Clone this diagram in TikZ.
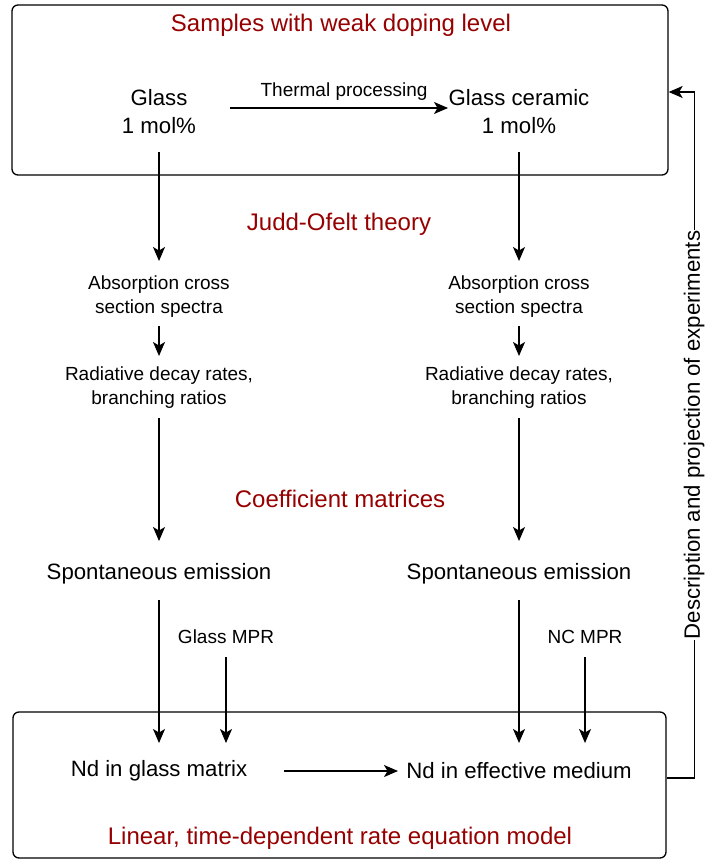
\documentclass[tikz,border=0pt]{standalone}
\usepackage{fontspec}
\setmainfont{Liberation Sans}
\usetikzlibrary{arrows.meta}
\definecolor{hd}{RGB}{150,0,0}
\begin{document}
\begin{tikzpicture}[x=1pt,y=-1pt,
  big/.style={font=\fontsize{22.2}{28}\selectfont, align=center, inner sep=0pt},
  small/.style={font=\fontsize{19}{24}\selectfont, align=center, inner sep=0pt},
  head/.style={font=\fontsize{24}{28}\selectfont, text=hd, inner sep=0pt},
  arr/.style={-{Stealth[length=14pt,width=12pt,inset=3.5pt]}, line width=1.3pt},
  box/.style={draw, line width=1.3pt, rounded corners=6pt, inner sep=0pt},
]
\useasboundingbox (0,0) rectangle (704,861);
% boxes
\node[box, minimum width=656pt, minimum height=170pt] (top) at (340,90) {};
\node[box, minimum width=653pt, minimum height=146pt] (bot) at (339.5,785) {};
% headings
\node[head] (h1) at (341,25) {Samples with weak doping level};
\node[head] (h2) at (339,224) {Judd-Ofelt theory};
\node[head] (h3) at (340,499) {Coefficient matrices};
\node[head] (h4) at (340,838) {Linear, time-dependent rate equation model};
% top row
\node[big] (g1) at (159,112) {Glass\\1 mol\%};
\node[big] (g2) at (519,112) {Glass ceramic\\1 mol\%};
\node[small] (tp) at (344,92) {Thermal processing};
% absorption
\node[small] (a1) at (159,297) {Absorption cross\\section spectra};
\node[small] (a2) at (519,297) {Absorption cross\\section spectra};
\node[small] (r1) at (159,388) {Radiative decay rates,\\branching ratios};
\node[small] (r2) at (519,388) {Radiative decay rates,\\branching ratios};
\node[big] (s1) at (159,574) {Spontaneous emission};
\node[big] (s2) at (519,574) {Spontaneous emission};
\node[small] (m1) at (226,637) {Glass MPR};
\node[small] (m2) at (585,637) {NC MPR};
\node[big] (n1) at (159,771) {Nd in glass matrix};
\node[big] (n2) at (519,771) {Nd in effective medium};
% arrows
\coordinate (ta) at (230,108);
\draw[arr] (ta) -- (ta -| 448,0);
\draw[arr] (g1 |- 0,152) -- (a1 |- 0,261);
\draw[arr] (g2 |- 0,152) -- (a2 |- 0,261);
\draw[arr] (a1 |- 0,326) -- (r1 |- 0,356);
\draw[arr] (a2 |- 0,326) -- (r2 |- 0,356);
\draw[arr] (r1 |- 0,418) -- (s1 |- 0,541);
\draw[arr] (r2 |- 0,418) -- (s2 |- 0,541);
\draw[arr] (s1 |- 0,600) -- (n1 |- 0,743);
\draw[arr] (s2 |- 0,600) -- (n2 |- 0,743);
\draw[arr] (m1 |- 0,657) -- (m1 |- 0,743);
\draw[arr] (m2 |- 0,657) -- (m2 |- 0,743);
\draw[arr] (n1 -| 284,0) -- (n2 -| 398,0);
% feedback
\draw[arr] ([yshift=7pt]bot.east) -- ++(28,0) coordinate (fb) |- ([yshift=-2pt]top.east);
\node[big, rotate=90, fill=white, inner sep=1pt] (fbl) at (694,435) {Description and projection of experiments};
\end{tikzpicture}
\end{document}
